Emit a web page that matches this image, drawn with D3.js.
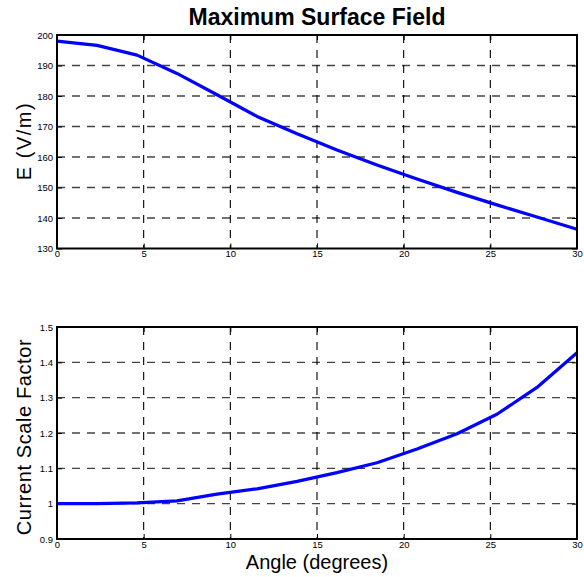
<!DOCTYPE html>
<html>
<head>
<meta charset="utf-8">
<script src="https://cdn.jsdelivr.net/npm/d3@7"></script>
<style>
  body { margin: 0; background: #fff; }
  text { font-family: "Liberation Sans", Arial, Helvetica, sans-serif; }
</style>
</head>
<body>
<svg width="584" height="577"></svg>
<script>
// Data
const angles = [0, 2.31, 4.62, 6.92, 9.23, 11.54, 13.85, 16.15, 18.46, 20.77, 23.08, 25.38, 27.69, 30]
const surfaceField = [198.0, 196.6, 193.4, 187.4, 180.4, 173.3, 167.6, 162.3, 157.4, 152.8, 148.4, 144.3, 140.3, 136.3]
const scaleFactor = [1.0, 1.0, 1.002, 1.008, 1.027, 1.042, 1.063, 1.088, 1.116, 1.155, 1.198, 1.253, 1.329, 1.427]
const xTicks = [0, 5, 10, 15, 20, 25, 30]
const fieldTicks = [130, 140, 150, 160, 170, 180, 190, 200]
const factorTicks = [0.9, 1.0, 1.1, 1.2, 1.3, 1.4, 1.5]

let svg = d3.select('svg')

const left = 57
const right = 577

// draws one MATLAB-style panel
const panel = (top, bottom, yDomain, yTicks, yFmt, values, yLabel, labelY, spacing) => {
  const x = d3.scaleLinear().domain([0, 30]).range([left, right])
  const y = d3.scaleLinear().domain(yDomain).range([bottom, top])
  const g = svg.append('g')

  // grid
  g.append('g')
    .selectAll('line')
    .data(yTicks.slice(1, -1))
    .enter()
    .append('line')
    .attr('x1', left).attr('x2', right)
    .attr('y1', d => y(d)).attr('y2', d => y(d))
    .attr('stroke', '#444')
    .attr('stroke-width', 1.4)
    .attr('stroke-dasharray', '8,7')
  g.append('g')
    .selectAll('line')
    .data(xTicks.slice(1, -1))
    .enter()
    .append('line')
    .attr('x1', d => x(d)).attr('x2', d => x(d))
    .attr('y1', top).attr('y2', bottom)
    .attr('stroke', '#000')
    .attr('stroke-width', 1.1)
    .attr('stroke-dasharray', '8,7')

  // axes with inward ticks
  const xAxis = d3.axisBottom(x).tickValues(xTicks).tickSizeInner(-5).tickSizeOuter(0).tickPadding(4).tickFormat(d3.format('d'))
  const yAxis = d3.axisLeft(y).tickValues(yTicks).tickSizeInner(-5).tickSizeOuter(0).tickPadding(4).tickFormat(yFmt)
  const xa = g.append('g').attr('transform', `translate(0,${bottom})`).call(xAxis)
  const ya = g.append('g').attr('transform', `translate(${left},0)`).call(yAxis)
  ;[xa, ya].forEach(a => {
    a.select('.domain').remove()
    a.selectAll('text').attr('font-size', 9.5).attr('fill', '#000')
      .style('font-family', '"Liberation Sans", Arial, sans-serif')
    a.selectAll('line').attr('stroke', '#000')
  })
  xa.selectAll('text').attr('dy', '0.71em').attr('y', 2)

  // right and top ticks
  g.append('g').attr('transform', `translate(${right},0)`)
    .call(d3.axisRight(y).tickValues(yTicks).tickSizeInner(-5).tickSizeOuter(0).tickFormat(''))
    .call(a => a.select('.domain').remove())
  g.append('g').attr('transform', `translate(0,${top})`)
    .call(d3.axisTop(x).tickValues(xTicks).tickSizeInner(-5).tickSizeOuter(0).tickFormat(''))
    .call(a => a.select('.domain').remove())

  // data line
  const line = d3.line().x((d, i) => x(angles[i])).y(d => y(d))
  g.append('path')
    .datum(values)
    .attr('d', line)
    .attr('fill', 'none')
    .attr('stroke', '#0000ff')
    .attr('stroke-width', 3.2)
    .attr('stroke-linejoin', 'round')

  // box
  g.append('rect')
    .attr('x', left).attr('y', top)
    .attr('width', right - left).attr('height', bottom - top)
    .attr('fill', 'none')
    .attr('stroke', '#000')
    .attr('stroke-width', 2)

  // y label
  g.append('text')
    .attr('transform', `translate(31,${labelY}) rotate(-90)`)
    .attr('text-anchor', 'middle')
    .attr('font-size', 20)
    .attr('letter-spacing', spacing)
    .text(yLabel)
}

panel(35, 248.5, [130, 200], fieldTicks, d3.format('d'), surfaceField, 'E (V/m)', 141, 1.5)
panel(327, 539, [0.9, 1.5], factorTicks, d => (d === 1 ? '1' : d3.format('.1f')(d)), scaleFactor, 'Current Scale Factor', 437, 0.6)

// title
svg.append('text')
  .attr('x', 317)
  .attr('y', 25)
  .attr('text-anchor', 'middle')
  .attr('font-size', 23)
  .attr('font-weight', 'bold')
  .text('Maximum Surface Field')

// x label
svg.append('text')
  .attr('x', 317)
  .attr('y', 569)
  .attr('text-anchor', 'middle')
  .attr('font-size', 20)
  .text('Angle (degrees)')
</script>
</body>
</html>
